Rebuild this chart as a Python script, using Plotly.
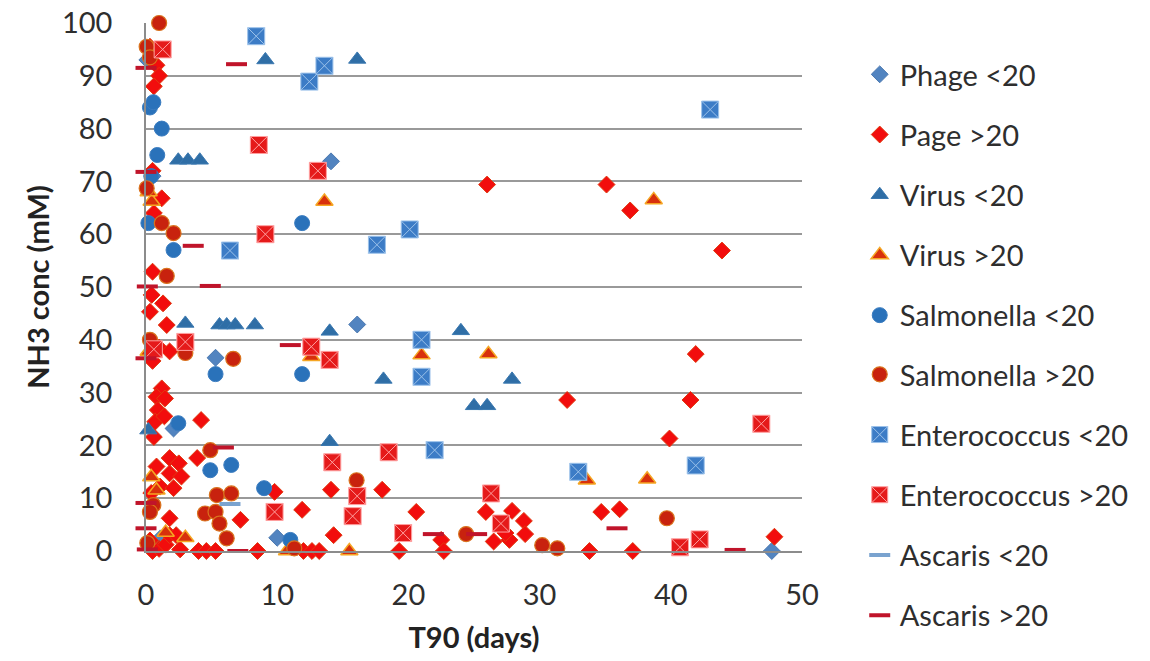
import plotly.graph_objects as go

# ---- data (T90 days, NH3 mM) ----
phage_lt_x = [0.1, 0.5, 14.1, 16.1, 5.3, 2.1, 1.1, 10.0, 47.7]
phage_lt_y = [93, 71, 73.8, 42.9, 36.6, 23.2, 2.4, 2.5, 0]

page_gt_x = [0.8, 1.0, 0.6, 0.3, 1.2, 0.6, 0.5, 0.5, 0.43, 1.3, 0.3, 1.58, 1.0, 1.8, 0.5,
             1.2, 0.8, 1.45, 0.9, 0.7, 1.4, 0.6, 4.2, 3.9, 1.8, 2.5, 0.8, 1.8, 2.7, 1.07, 2.1, 0.4,
             1.8, 7.2, 9.8, 11.9, 14.1, 14.3, 18.0, 20.6, 22.5, 22.7, 19.3, 25.9, 27.9, 28.8, 28.9,
             26.5, 27.7, 27.4, 26.0, 35.1, 36.9, 43.9, 41.9, 32.1, 41.5, 39.9, 34.7, 36.1, 33.8, 37.1,
             47.9, 4.0, 4.6, 5.3, 8.5, 12.0, 12.65, 13.2, 0.5, 1.0, 1.5, 1.8, 2.3, 0.3, 2.6]
page_gt_y = [92, 90, 88, 95.5, 66.8, 64, 72, 52.9, 48.5, 46.9, 45.3, 42.8, 38.5, 37.8, 36,
             30.8, 29.2, 28.9, 26.7, 24.5, 25.5, 21.6, 24.8, 17.6, 17.6, 16.6, 16.0, 14.7, 14.1, 12.2, 11.9, 11,
             6.2, 5.9, 11.2, 7.8, 11.6, 3.0, 11.6, 7.4, 2.1, 0, 0, 7.4, 7.6, 5.7, 3.2,
             1.8, 2.1, 3.4, 69.4, 69.4, 64.5, 56.9, 37.3, 28.6, 28.6, 21.3, 7.4, 7.9, 0, 0,
             2.7, 0, 0, 0, 0, 0, 0, 0, 0, 0.4, 1.2, 3.0, 3.0, 2.0, 0.3]

virus_lt_x = [9.1, 16.1, 2.46, 3.2, 4.1, 3.0, 5.6, 6.15, 6.8, 8.3, 14.0, 24.0, 18.1, 27.9, 25.0, 26.0, 14.0, 0.18]
virus_lt_y = [93, 93.1, 74, 74, 74, 43.1, 42.8, 42.8, 42.8, 42.8, 41.6, 41.7, 32.5, 32.5, 27.5, 27.5, 20.7, 22.9]

virus_gt_x = [13.6, 0.43, 0.2, 21.0, 26.1, 12.6, 0.2, 33.6, 38.2, 38.7, 15.5, 10.75, 0.4, 0.8, 3.0, 1.5]
virus_gt_y = [66.2, 66.2, 68, 37.1, 37.3, 36.8, 37.8, 13.4, 13.6, 66.5, 0, 0, 14.0, 11.5, 2.5, 3.5]

salm_lt_x = [0.3, 0.56, 1.2, 0.86, 0.4, 0.18, 2.1, 11.9, 5.3, 11.9, 2.46, 4.9, 6.5, 9.0, 11.0]
salm_lt_y = [84, 85, 80, 75, 71, 62.1, 57.0, 62.1, 33.5, 33.5, 24.2, 15.3, 16.3, 11.9, 2.1]

salm_gt_x = [1.0, 0.05, 0.3, 0.05, 1.2, 2.1, 1.58, 0.3, 3.0, 6.65, 4.9, 5.4, 6.5, 0.56, 0.3,
             4.5, 5.3, 5.6, 6.15, 16.05, 24.4, 30.2, 31.35, 39.7, 11.3, 0.1]
salm_gt_y = [100, 95.5, 93.5, 68.7, 62.1, 60.2, 52.1, 40, 37.5, 36.4, 19.1, 10.6, 10.9, 8.7, 7.4,
             7.1, 7.4, 5.2, 2.4, 13.4, 3.2, 1.1, 0.5, 6.2, 0.5, 1.5]

ent_lt_x = [8.4, 12.45, 13.6, 43.0, 17.6, 20.1, 6.4, 21.0, 21.0, 22.0, 32.95, 41.9]
ent_lt_y = [97.5, 88.9, 91.9, 83.6, 58, 60.9, 56.9, 40.0, 33.0, 19.1, 15.0, 16.2]

ent_gt_x = [1.27, 8.6, 13.1, 9.1, 3.0, 12.6, 14.0, 0.6, 14.2, 18.5, 16.1, 15.75, 19.6, 9.8,
            26.3, 27.05, 46.9, 40.7, 42.2]
ent_gt_y = [95, 76.9, 72, 60.0, 39.6, 38.7, 36.2, 38.2, 16.8, 18.7, 10.4, 6.6, 3.4, 7.4,
            10.9, 5.2, 24.1, 0.7, 2.2]

asc_lt_x = [6.4]
asc_lt_y = [8.9]

asc_gt_x = [6.9, 0.0, 0.0, 3.6, 0.1, 4.9, 11.0, 0.0, 5.9, 0.0, 0.0, 7.0, 21.9, 25.2, 35.9, 44.9, 0.1]
asc_gt_y = [92.2, 91.5, 71.8, 57.8, 50.1, 50.2, 39.0, 36.5, 19.6, 9.1, 4.3, 0, 3.2, 3.2, 4.3, 0.2, 0.3]

FONT = "Lato"
TXT = "#2E2E2E"

series = [
    ("Phage <20", phage_lt_x, phage_lt_y, dict(symbol="diamond", size=13, color="#5284C0",
                                              line=dict(color="#4A78B0", width=1))),
    ("Page >20", page_gt_x, page_gt_y, dict(symbol="diamond", size=13, color="#F20D0D",
                                            line=dict(color="#E03A10", width=1))),
    ("Virus <20", virus_lt_x, virus_lt_y, dict(symbol="triangle-up", size=15, color="#2F6EA6",
                                              line=dict(color="#3A78B0", width=1))),
    ("Virus >20", virus_gt_x, virus_gt_y, dict(symbol="triangle-up", size=15, color="#D8300C",
                                              line=dict(color="#F5A623", width=1.5))),
    ("Salmonella <20", salm_lt_x, salm_lt_y, dict(symbol="circle", size=15, color="#2A72BA",
                                                  line=dict(color="#3A7CC0", width=1))),
    ("Salmonella >20", salm_gt_x, salm_gt_y, dict(symbol="circle", size=15, color="#C8220E",
                                                  line=dict(color="#D9731E", width=1.2))),
    ("Enterococcus <20", ent_lt_x, ent_lt_y, dict(symbol="square-x", size=17, color="#3C7CC6",
                                                  line=dict(color="#9CC2EA", width=1))),
    ("Enterococcus >20", ent_gt_x, ent_gt_y, dict(symbol="square-x", size=17, color="#E51A1A",
                                                  line=dict(color="#FFA0A0", width=1))),
    ("Ascaris <20", asc_lt_x, asc_lt_y, dict(symbol="line-ew", size=15, color="#7AA3CF",
                                             line=dict(color="#7AA3CF", width=4))),
    ("Ascaris >20", asc_gt_x, asc_gt_y, dict(symbol="line-ew", size=15, color="#C0142A",
                                             line=dict(color="#C0142A", width=4))),
]

fig = go.Figure()
for i, (name, xs, ys, mk) in enumerate(series):
    fig.add_trace(go.Scatter(x=xs, y=ys, mode="markers", name=name, marker=mk,
                             legendgroup="g%d" % i, cliponaxis=False,
                             legend="legend" if i < 5 else "legend2"))

leg_common = dict(x=1.088, xanchor="left", yanchor="top",
                  traceorder="grouped", tracegroupgap=19.5,
                  font=dict(family=FONT, size=29, color=TXT),
                  bgcolor="rgba(0,0,0,0)", itemsizing="trace")

fig.update_layout(
    width=1150, height=661,
    margin=dict(l=146, r=348, t=23, b=110, autoexpand=False),
    paper_bgcolor="white", plot_bgcolor="white",
    font=dict(family=FONT, size=29, color=TXT),
    showlegend=True,
    legend=dict(y=0.9508, **leg_common),
    legend2=dict(y=0.3826, **leg_common),
    xaxis=dict(range=[0, 50], dtick=10, tick0=0, showgrid=False, zeroline=False,
               showline=True, linecolor="#8C8C8C", linewidth=1.5,
               ticks="", ticklabelstandoff=17,
               tickfont=dict(family=FONT, size=29, color=TXT),
               title=dict(text="<b>T90 (days)</b>", standoff=18,
                          font=dict(family=FONT, size=29, color="#222222"))),
    yaxis=dict(range=[0, 100], dtick=10, tick0=0, showgrid=True, gridcolor="#999999",
               gridwidth=1.5, zeroline=False, showline=True, linecolor="#8C8C8C",
               linewidth=1.5, ticks="", ticklabelstandoff=26,
               tickfont=dict(family=FONT, size=29, color=TXT),
               title=dict(text="<b>NH3 conc (mM)</b>", standoff=4,
                          font=dict(family=FONT, size=29, color="#222222"))),
)

fig.write_html("out.html")
